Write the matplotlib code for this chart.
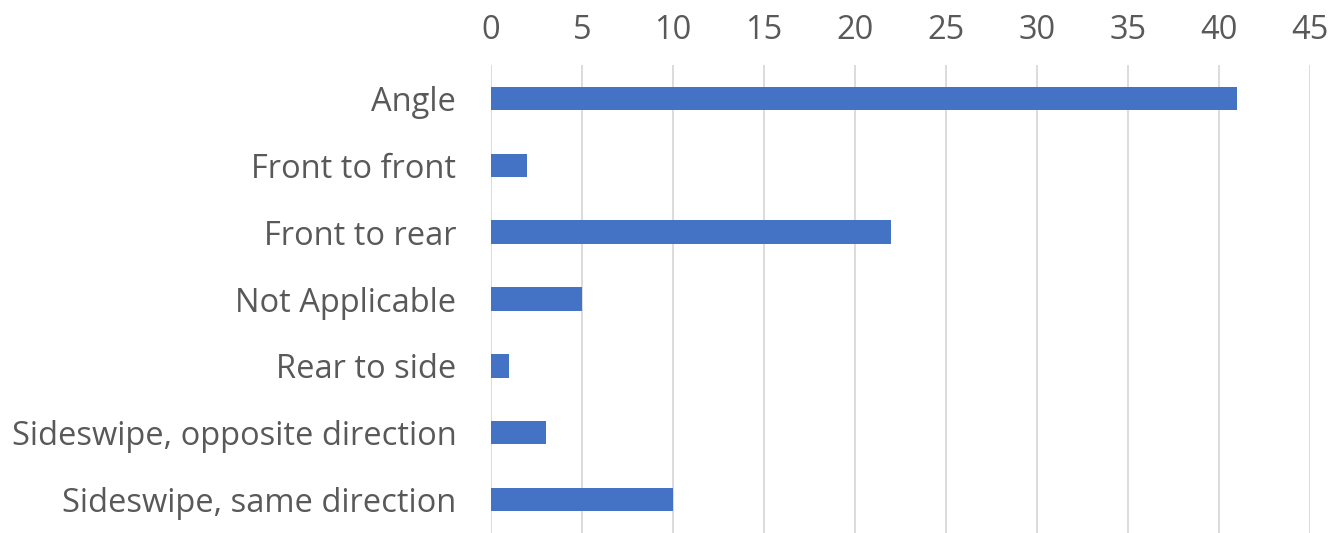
import matplotlib.pyplot as plt

categories = ["Angle", "Front to front", "Front to rear", "Not Applicable",
              "Rear to side", "Sideswipe, opposite direction",
              "Sideswipe, same direction"]
values = [41, 2, 22, 5, 1, 3, 10]
xticks = [0, 5, 10, 15, 20, 25, 30, 35, 40, 45]

plt.rcParams["font.family"] = ["Open Sans", "DejaVu Sans"]

fig = plt.figure(figsize=(13.29, 5.33), dpi=100)
ax = fig.add_axes([491 / 1329, 0.0, (1310 - 491) / 1329, 1 - 65 / 533])

ypos = list(range(len(categories)))
ax.barh(ypos, values, height=0.35, color="#4472C4", zorder=3)
ax.set_ylim(len(categories) - 0.5, -0.5)
ax.set_xlim(0, 45)
ax.set_xticks(xticks)
ax.set_yticks(ypos)
ax.set_yticklabels(categories)

ax.xaxis.tick_top()
ax.tick_params(axis="x", length=0, pad=13, labelsize=23.5, labelcolor="#595959")
ax.tick_params(axis="y", length=0, pad=25, labelsize=23.5, labelcolor="#595959")
ax.grid(axis="x", color="#D9D9D9", linewidth=1.3, zorder=0)
for s in ax.spines.values():
    s.set_visible(False)

fig.savefig("out.png", dpi=100)
